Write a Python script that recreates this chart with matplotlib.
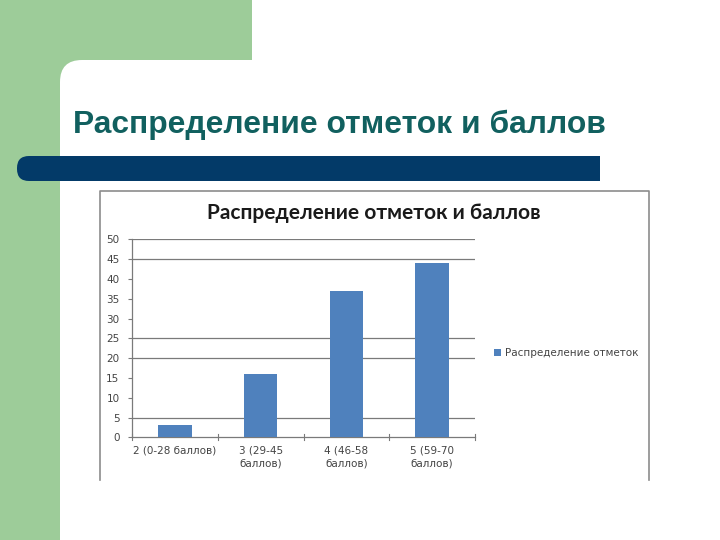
import matplotlib
matplotlib.use('Agg')
import matplotlib.pyplot as plt
from matplotlib.patches import Rectangle, FancyBboxPatch
from matplotlib.lines import Line2D

# data
categories = ['2 (0-28 баллов)', '3 (29-45\nбаллов)', '4 (46-58\nбаллов)', '5 (59-70\nбаллов)']
counts = [3, 16, 37, 44]
series_name = 'Распределение отметок'
slide_title = 'Распределение отметок и баллов'
chart_title = 'Распределение отметок и баллов'
y_ticks = [0, 5, 10, 15, 20, 25, 30, 35, 40, 45, 50]
grid_shown = [5, 20, 25, 45, 50]

W, H = 720, 540
fig = plt.figure(figsize=(7.2, 5.4), dpi=100)
fig.set_facecolor('white')

# slide background drawn in pixel coordinates
bg = fig.add_axes([0, 0, 1, 1])
bg.set_xlim(0, W)
bg.set_ylim(H, 0)
bg.axis('off')

green = '#9dcc99'
bg.add_patch(Rectangle((0, 0), 60, H, color=green, lw=0))
bg.add_patch(Rectangle((0, 0), 252, 60, color=green, lw=0))
bg.add_patch(Rectangle((60, 60), 40, 40, color=green, lw=0))  # behind the rounded corner
bg.add_patch(FancyBboxPatch((60, 60), 800, 600, boxstyle='round,pad=0,rounding_size=22',
                            fc='white', ec='none'))

# dark blue bar under the title
navy = '#033a68'
bg.add_patch(FancyBboxPatch((17, 156), 583, 25, boxstyle='round,pad=0,rounding_size=12',
                            fc=navy, ec='none'))
bg.add_patch(Rectangle((300, 156), 300, 25, color=navy, lw=0))

bg.text(73, 125, slide_title, fontsize=22.9, fontweight='bold', color='#11605f',
        family='Liberation Sans', va='center', ha='left')

# chart frame (bottom edge is cut off in the slide)
frame_c = '#8c8c8c'
bg.add_line(Line2D([100, 100, 649, 649], [480, 191, 191, 480], color=frame_c, lw=1.2))

bg.text(374, 213, chart_title, fontsize=15, fontweight='bold', color='#1a1a1a',
        family='Lato', va='center', ha='center')

# chart area
ax = fig.add_axes([132 / W, 1 - 437.3 / H, 343 / W, 198 / H])
x = list(range(len(categories)))
ax.bar(x, counts, width=0.39, color='#4f81bd', zorder=3, label=series_name)
ax.set_xlim(-0.5, len(categories) - 0.5)
ax.set_ylim(0, 50)
ax.set_yticks(y_ticks)
ax.set_yticklabels([str(t) for t in y_ticks], fontsize=7.5, color='#444444', family='DejaVu Sans')
for g in grid_shown:
    ax.axhline(g, color='#7a7a7a', lw=0.9, zorder=1)

ax.set_xticks(x)
ax.set_xticklabels(categories, fontsize=7.5, color='#444444', family='DejaVu Sans',
                   va='top', linespacing=1.4)
ax.tick_params(axis='x', length=0, pad=6)
ax.tick_params(axis='y', length=3, width=0.8, color='#7a7a7a', pad=6)
# boundary ticks on x axis
for b in [-0.5, 0.5, 1.5, 2.5, 3.5]:
    ax.plot([b, b], [-0.8, 0.8], color='#7a7a7a', lw=0.8, clip_on=False, zorder=4)

for s in ['top', 'right']:
    ax.spines[s].set_visible(False)
ax.spines['left'].set_color('#7a7a7a')
ax.spines['bottom'].set_color('#7a7a7a')
ax.spines['left'].set_linewidth(0.9)
ax.spines['bottom'].set_linewidth(0.9)
ax.set_facecolor('none')

leg = ax.legend(loc='center left', bbox_to_anchor=(358 / 343, (437.3 - 353) / 198),
                frameon=False, fontsize=7.5, handlelength=0.7, handleheight=0.7,
                handletextpad=0.3, borderaxespad=0, prop={'family': 'DejaVu Sans', 'size': 7.5})
for t in leg.get_texts():
    t.set_color('#444444')

plt.savefig('out.png', dpi=100)
